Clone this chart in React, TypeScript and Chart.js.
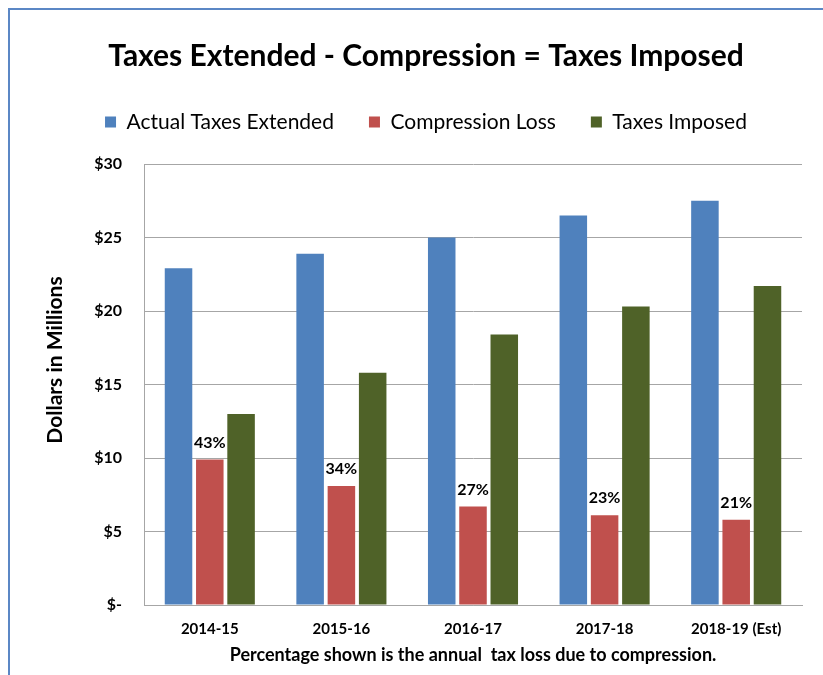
import React, { useEffect, useRef } from 'react';
import { Chart, registerables } from 'chart.js';

Chart.register(...registerables);

const categories = ['2014-15', '2015-16', '2016-17', '2017-18', '2018-19 (Est)'];
const actualTaxesExtended = [22.9, 23.9, 25.0, 26.5, 27.5];
const compressionLoss = [9.9, 8.1, 6.7, 6.1, 5.8];
const taxesImposed = [13.0, 15.8, 18.4, 20.3, 21.7];
const lossPercentLabels = ['43%', '34%', '27%', '23%', '21%'];

const chartTitle = 'Taxes Extended - Compression = Taxes Imposed';
const yAxisTitle = 'Dollars in Millions';
const xAxisTitle = 'Percentage shown is the annual  tax loss due to compression.';

const FONT = "Lato, 'Open Sans', sans-serif";

const percentLabelPlugin = {
  id: 'percentLabels',
  afterDatasetsDraw(chart: any) {
    const meta = chart.getDatasetMeta(1);
    const ctx = chart.ctx;
    ctx.save();
    ctx.font = `bold 16px ${FONT}`;
    ctx.fillStyle = '#000';
    ctx.textAlign = 'center';
    ctx.textBaseline = 'middle';
    meta.data.forEach((el: any, i: number) => {
      ctx.fillText(lossPercentLabels[i], el.x, el.y - 17);
    });
    ctx.restore();
  },
};

const yTitlePlugin = {
  id: 'yTitle',
  afterDraw(chart: any) {
    const { ctx, chartArea } = chart;
    ctx.save();
    ctx.translate(chartArea.left - 89, chartArea.top + 196);
    ctx.rotate(-Math.PI / 2);
    ctx.font = `bold 21px ${FONT}`;
    ctx.fillStyle = '#000';
    ctx.textAlign = 'center';
    ctx.textBaseline = 'middle';
    ctx.fillText(yAxisTitle, 0, 0);
    ctx.restore();
  },
};

export default function App() {
  const canvasRef = useRef<HTMLCanvasElement | null>(null);

  useEffect(() => {
    if (!canvasRef.current) return;
    const chart = new Chart(canvasRef.current, {
      type: 'bar',
      data: {
        labels: categories,
        datasets: [
          {
            label: 'Actual Taxes Extended',
            data: actualTaxesExtended,
            backgroundColor: '#4F81BD',
          },
          {
            label: 'Compression Loss',
            data: compressionLoss,
            backgroundColor: '#C0504D',
          },
          {
            label: 'Taxes Imposed',
            data: taxesImposed,
            backgroundColor: '#4F6228',
          },
        ],
      },
      options: {
        responsive: false,
        animation: false,
        devicePixelRatio: 1,
        layout: { padding: { left: 40, right: 21, top: 0, bottom: 0 } },
        datasets: {
          bar: { categoryPercentage: 0.713, barPercentage: 0.88 },
        },
        plugins: {
          title: {
            display: true,
            text: chartTitle,
            color: '#000',
            font: { family: FONT, size: 30, weight: 'bold', lineHeight: 1.2 },
            padding: { top: 28, bottom: 2.5 },
          },
          subtitle: {
            display: true,
            text: '',
            weight: 500,
            font: { family: FONT, size: 10, lineHeight: 1 },
            padding: { top: 0, bottom: 11.5 },
          },
          legend: {
            display: true,
            position: 'top',
            labels: {
              boxWidth: 11,
              boxHeight: 11,
              padding: 35,
              color: '#000',
              font: { family: FONT, size: 21 },
            },
          },
          tooltip: { enabled: false },
        },
        scales: {
          x: {
            grid: { display: false, drawTicks: false },
            border: { display: true, color: '#A6A6A6', width: 1 },
            ticks: {
              color: '#000',
              padding: 15,
              font: { family: FONT, size: 15, weight: 'bold' },
            },
            title: {
              display: true,
              text: xAxisTitle,
              color: '#000',
              font: { family: FONT, size: 18, weight: 'bold', lineHeight: 1.2 },
              padding: { top: 6, bottom: 9 },
            },
            afterFit(scale: any) {
              scale.height = 70;
            },
          },
          y: {
            min: 0,
            max: 30,
            grid: { color: '#A6A6A6', lineWidth: 1, drawTicks: false },
            border: { display: true, color: '#A6A6A6', width: 1 },
            ticks: {
              stepSize: 5,
              color: '#000',
              padding: 22,
              font: { family: FONT, size: 16, weight: 'bold' },
              callback: (v: any) => (Number(v) === 0 ? '$-' : '$' + v),
            },
            afterFit(scale: any) {
              scale.width = 94;
            },
          },
        },
      },
      plugins: [percentLabelPlugin, yTitlePlugin],
    });
    return () => chart.destroy();
  }, []);

  return (
    <div
      style={{
        position: 'fixed',
        left: 0,
        top: 0,
        width: 823,
        height: 675,
        overflow: 'hidden',
        background: '#fff',
      }}
    >
      <div
        style={{
          position: 'absolute',
          left: 8,
          top: 8,
          width: 880,
          height: 720,
          border: '2px solid #5B87C5',
        }}
      />
      <canvas
        ref={canvasRef}
        width={813}
        height={665}
        style={{ position: 'absolute', left: 10, top: 10, width: 813, height: 665 }}
      />
    </div>
  );
}
